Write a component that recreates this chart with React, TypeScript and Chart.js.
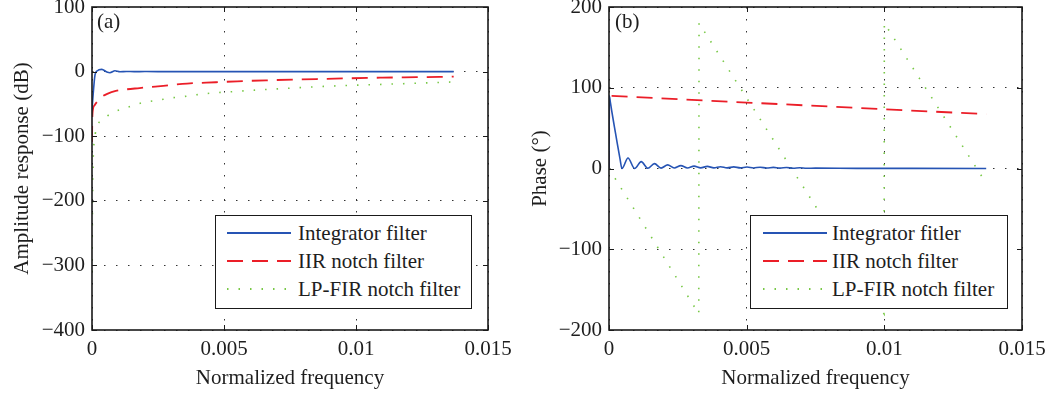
import React, { useEffect, useRef } from "react";
import { Chart, registerables } from "chart.js";

Chart.register(...registerables);

// ---------- tick labels ----------
const xTickValues = [0, 0.005, 0.01, 0.015];
const ampTickValues = [-400, -300, -200, -100, 0, 100];
const phaseTickValues = [-200, -100, 0, 100, 200];

// ---------- (a) amplitude response ----------
const ampIntegratorF = [0, 0.000027, 0.000114, 0.00019, 0.00037, 0.00056, 0.00068, 0.00087, 0.00106, 0.0013, 0.0016, 0.002, 0.003, 0.006, 0.01, 0.0137];
const ampIntegratorDb = [-60, -44, -5, 1, 3.5, -0.5, -1.7, 1.2, -0.3, 0.2, -0.1, 0.05, 0, 0, 0, 0];

const ampIirF = [0, 0.00001, 0.00003, 0.0001, 0.00019, 0.00038, 0.0006, 0.0009, 0.0012, 0.0018, 0.0027, 0.0036, 0.0047, 0.0055, 0.0066, 0.0085, 0.011, 0.0123, 0.0137];
const ampIirDb = [-109, -75, -60, -52, -47, -39, -34, -30, -28, -25.5, -22, -18.5, -16.5, -15, -13.5, -11.5, -9.4, -8.7, -7.8];

const ampFirF = [0, 0.00002, 0.00005, 0.0001, 0.00015, 0.0004, 0.00076, 0.00114, 0.00152, 0.00193, 0.00254, 0.00295, 0.00341, 0.00383, 0.00447, 0.00534, 0.00644, 0.0069, 0.009, 0.0112, 0.0137];
const ampFirDb = [-310, -200, -130, -106, -90, -75, -64, -58, -53, -48, -44, -41, -39, -36.5, -33.5, -31, -28, -27, -22.5, -19.5, -16];

// ---------- (b) phase ----------
const phaseIntegratorF = [0, 0.00001, 0.00005, 0.0001, 0.0002, 0.0003, 0.0004, 0.00047, 0.00069, 0.00093, 0.00117, 0.00141, 0.00165, 0.00189, 0.00213, 0.00237, 0.00261, 0.00285, 0.00309, 0.00333, 0.00357, 0.00381, 0.00405, 0.00429, 0.00453, 0.00477, 0.00501, 0.00525, 0.00549, 0.00573, 0.00597, 0.00621, 0.00645, 0.00669, 0.00693, 0.00717, 0.0075, 0.009, 0.011, 0.0137];
const phaseIntegratorDeg = [0, 90, 82, 71, 51, 31, 12, 0, 13, 0, 8.5, 0.3, 6, 0.5, 4.5, 0.6, 3.6, 0.7, 3, 0.8, 2.6, 0.8, 2.2, 0.8, 2, 0.8, 1.8, 0.7, 1.6, 0.6, 1.4, 0.5, 1.2, 0.4, 1.0, 0.3, 0.5, 0.2, 0.1, 0];

const phaseIirF = [0, 0.00001, 0.005, 0.01, 0.0137];
const phaseIirDeg = [0, 90, 81.7, 73.4, 67.3];

const phaseFirF = [0, 0.00326, 0.00327, 0.00999, 0.01, 0.0136];
const phaseFirDeg = [0, -180, 180, -180, 180, -13];

// ---------- style ----------
const FONT = "'Liberation Serif', 'Times New Roman', Times, serif";
const FONT_SIZE = 21;
const TEXT = "#1e1e1e";
const BLUE = "rgb(38,84,180)";
const RED = "rgb(235,30,40)";
const GREEN = "rgb(120,200,70)";
const RED_DASH = [16, 9];
const GREEN_DASH = [1.5, 10];

const pts = (xs: number[], ys: number[]) => xs.map((x, i) => ({ x, y: ys[i] }));
const fmtX = (v: number) => String(Number(v.toFixed(4)));
const fmtY = (v: number) => (v < 0 ? "\u2212" + Math.abs(v) : String(v));

const frameBox = {
  id: "frameBox",
  afterDatasetsDraw(chart: any) {
    const { ctx, chartArea: a, scales } = chart;
    ctx.save();
    ctx.setLineDash([]);
    ctx.strokeStyle = "#1a1a1a";
    ctx.lineWidth = 1;
    const L = 5;
    const xs = scales.x;
    xs.ticks.forEach((t: any) => {
      const px = Math.round(xs.getPixelForValue(t.value)) + 0.5;
      ctx.beginPath();
      ctx.moveTo(px, a.bottom);
      ctx.lineTo(px, a.bottom - L);
      ctx.moveTo(px, a.top);
      ctx.lineTo(px, a.top + L);
      ctx.stroke();
    });
    const ys = scales.y;
    ys.ticks.forEach((t: any) => {
      const py = Math.round(ys.getPixelForValue(t.value)) + 0.5;
      ctx.beginPath();
      ctx.moveTo(a.left, py);
      ctx.lineTo(a.left + L, py);
      ctx.moveTo(a.right, py);
      ctx.lineTo(a.right - L, py);
      ctx.stroke();
    });
    ctx.lineWidth = 1.6;
    ctx.strokeRect(a.left, a.top, a.right - a.left, a.bottom - a.top);
    ctx.restore();
  },
};

function makeConfig(opts: {
  datasets: any[];
  yMin: number;
  yMax: number;
  yTicks: number[];
  yTitle: string;
  yWidth: number;
  yTitlePad: number;
  rightPad: number;
}): any {
  const font = { family: FONT, size: FONT_SIZE };
  return {
    type: "line",
    data: { datasets: opts.datasets },
    plugins: [frameBox],
    options: {
      animation: false,
      responsive: false,
      devicePixelRatio: 1,
      layout: { padding: { left: 0, top: 7, right: opts.rightPad, bottom: 0 } },
      plugins: { legend: { display: false }, tooltip: { enabled: false } },
      elements: { point: { radius: 0 }, line: { fill: false } },
      scales: {
        x: {
          type: "linear",
          min: 0,
          max: 0.015,
          afterBuildTicks: (s: any) => {
            s.ticks = xTickValues.map((v) => ({ value: v }));
          },
          afterFit: (s: any) => {
            s.height = 64;
            s.paddingLeft = 0;
            s.paddingRight = 0;
          },
          ticks: { callback: (v: number) => fmtX(v), padding: 7, maxRotation: 0, autoSkip: false, color: TEXT, font },
          grid: { color: "#333", lineWidth: 1, drawTicks: false },
          border: { display: false, dash: [1.5, 10.5] },
          title: { display: true, text: "Normalized frequency", color: TEXT, font, padding: { top: 0, bottom: 3 } },
        },
        y: {
          type: "linear",
          min: opts.yMin,
          max: opts.yMax,
          afterBuildTicks: (s: any) => {
            s.ticks = opts.yTicks.map((v) => ({ value: v }));
          },
          afterFit: (s: any) => {
            s.width = opts.yWidth;
            s.paddingTop = 0;
            s.paddingBottom = 0;
          },
          ticks: { callback: (v: number) => fmtY(v), padding: 7, autoSkip: false, color: TEXT, font },
          grid: { color: "#333", lineWidth: 1, drawTicks: false },
          border: { display: false, dash: [1.5, 10.5] },
          title: { display: true, text: opts.yTitle, color: TEXT, font, padding: { top: opts.yTitlePad, bottom: 0 } },
        },
      },
    },
  };
}

const ds = (label: string, data: any[], color: string, dash: number[], width: number, smooth: boolean) => ({
  label,
  data,
  borderColor: color,
  backgroundColor: color,
  borderDash: dash,
  borderWidth: width,
  pointRadius: 0,
  cubicInterpolationMode: smooth ? "monotone" : "default",
  tension: 0,
});

function ChartCanvas({ config, width, height, left }: { config: any; width: number; height: number; left: number }) {
  const ref = useRef<HTMLCanvasElement | null>(null);
  useEffect(() => {
    if (!ref.current) return;
    const c = new Chart(ref.current, config);
    return () => c.destroy();
  }, []);
  return (
    <canvas
      ref={ref}
      width={width}
      height={height}
      style={{ position: "absolute", left, top: 0, width, height, display: "block" }}
    />
  );
}

function LegendSample({ color, dash }: { color: string; dash: number[] }) {
  return (
    <svg width={64} height={6} style={{ display: "block", flex: "none" }}>
      <line x1={0} y1={3} x2={64} y2={3} stroke={color} strokeWidth={1.8} strokeDasharray={dash.length ? dash.join(" ") : undefined} />
    </svg>
  );
}

function Legend({ left, top, width, height, labels, sampleLeft, gap }: any) {
  const rows = [
    { color: BLUE, dash: [] as number[] },
    { color: RED, dash: RED_DASH },
    { color: GREEN, dash: GREEN_DASH },
  ];
  return (
    <div
      style={{
        position: "absolute",
        left,
        top,
        width,
        height,
        boxSizing: "border-box",
        border: "1.6px solid #1a1a1a",
        background: "#fff",
        fontFamily: FONT,
        fontSize: FONT_SIZE,
        color: TEXT,
        paddingTop: 3,
      }}
    >
      {rows.map((r, i) => (
        <div key={i} style={{ display: "flex", alignItems: "center", height: 28, paddingLeft: sampleLeft, whiteSpace: "nowrap" }}>
          <LegendSample color={r.color} dash={r.dash} />
          <span style={{ marginLeft: gap, lineHeight: "28px" }}>{labels[i]}</span>
        </div>
      ))}
    </div>
  );
}

const ampLegend = ["Integrator filter", "IIR notch filter", "LP-FIR notch filter"];
const phaseLegend = ["Integrator fitler", "IIR notch filter", "LP-FIR notch filter"];

export default function App() {
  const leftConfig = makeConfig({
    datasets: [
      ds(ampLegend[0], pts(ampIntegratorF, ampIntegratorDb), BLUE, [], 1.6, true),
      ds(ampLegend[1], pts(ampIirF, ampIirDb), RED, RED_DASH, 1.8, true),
      ds(ampLegend[2], pts(ampFirF, ampFirDb), GREEN, GREEN_DASH, 1.6, true),
    ],
    yMin: -400,
    yMax: 100,
    yTicks: ampTickValues,
    yTitle: "Amplitude response (dB)",
    yWidth: 92,
    yTitlePad: 10,
    rightPad: 28,
  });
  const rightConfig = makeConfig({
    datasets: [
      ds(phaseLegend[0], pts(phaseIntegratorF, phaseIntegratorDeg), BLUE, [], 1.6, true),
      ds(phaseLegend[1], pts(phaseIirF, phaseIirDeg), RED, RED_DASH, 1.8, false),
      ds(phaseLegend[2], pts(phaseFirF, phaseFirDeg), GREEN, GREEN_DASH, 1.6, false),
    ],
    yMin: -200,
    yMax: 200,
    yTicks: phaseTickValues,
    yTitle: "Phase (\u00b0)",
    yWidth: 93,
    yTitlePad: 12,
    rightPad: 25,
  });
  const panelLabel = (x: number, text: string) => (
    <div style={{ position: "absolute", left: x, top: 9, fontFamily: FONT, fontSize: FONT_SIZE, color: TEXT, lineHeight: "24px" }}>{text}</div>
  );
  return (
    <div style={{ position: "absolute", left: 0, top: 0, width: 1047, height: 394, background: "#fff", overflow: "hidden" }}>
      <ChartCanvas config={leftConfig} width={516} height={394} left={0} />
      <ChartCanvas config={rightConfig} width={531} height={394} left={516} />
      {panelLabel(97, "(a)")}
      {panelLabel(615, "(b)")}
      <Legend left={215} top={215} width={257} height={94} labels={ampLegend} sampleLeft={11} gap={7} />
      <Legend left={750} top={215} width={258} height={94} labels={phaseLegend} sampleLeft={12} gap={5} />
    </div>
  );
}
